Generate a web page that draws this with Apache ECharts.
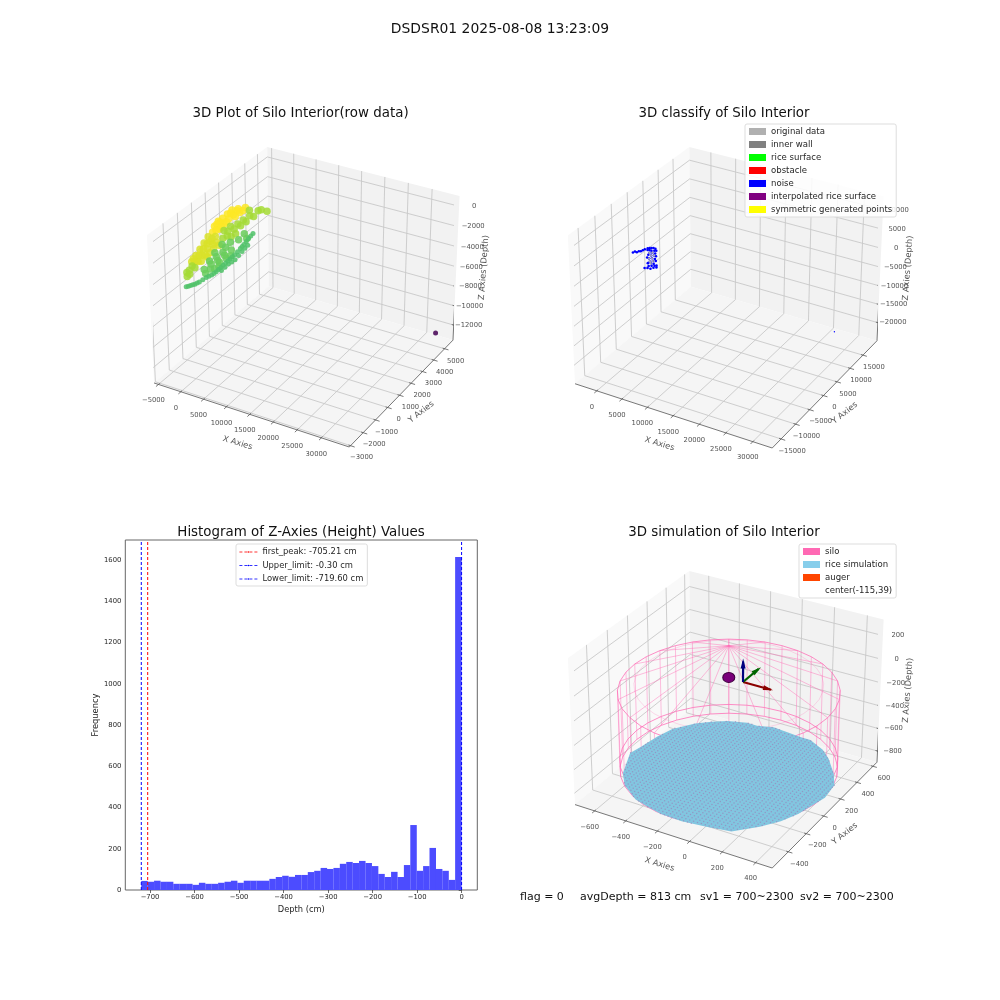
<!DOCTYPE html>
<html><head><meta charset="utf-8">
<script src="https://cdn.jsdelivr.net/npm/echarts@6/dist/echarts.min.js"></script>
<style>html,body{margin:0;background:#fff}#c{width:1000px;height:1000px}</style></head>
<body><div id="c"></div><script>
// ---------- histogram ----------
const histStart=-719.6, histWidth=14.386;
const histCounts=[44,40,45,40,40,30,30,30,25,35,30,30,35,40,45,35,45,45,45,45,54,63,69,64,73,73,87,93,107,102,107,127,136,131,141,131,116,78,63,88,63,121,315,93,116,204,102,93,49,1615];
const histXTicks=[-700,-600,-500,-400,-300,-200,-100,0];
const histYTicks=[0,200,400,600,800,1000,1200,1400,1600];
const firstPeak=-705.21, upperLimit=-0.30, lowerLimit=-719.60;
// ---------- raw data panel ----------
const rawX=[816,-69,-802,962,411,-686,-570,527,-635,825,-185,1123,753,1057,141,-410,1079,-148,767,-242,1065,848,
-572,495,793,60,1890,691,1759,2674,1324,2239,1956,2870,3364,401,699,1795,1149,2944,1781,2697,2413,3328,1563,2892,
677,1157,1977,2036,-1656,-102,174,1451,377,-1532,-1343,-640,-603,-414,168,1024,-740,-189,182,217,-79,959,1099,1498,
-1492,-635,222,-954,266,1123,-111,1109,1965,1646,2503,-105,1260,-337,77,1116,738,1777,731,1763,2256,2212,
89,517,946,1193,1381,1781,1846,1730,1614,1497,1381,1053,784,305,7,2427,2252,2441,1903,1577,
303,731,1070,1287,1581,1813,1788,1672,1555,1439,1217,918,544,156,2340,2346,2172,1740,32781];
const rawY=[1672,1434,1220,1195,910,839,458,529,148,77,-280,-376,-733,1409,1266,981,814,125,267,-90,-186,-519,
-629,-463,-917,-1129,-845,-1630,-1464,-1322,-2130,-1987,-2631,-2488,-2013,-679,-1130,-1060,-1560,-1680,-2060,-1917,-2560,-2418,-2392,-989,
-2211,-2735,-2807,-2997,2813,2955,3098,3097,2431,837,1266,1574,1979,2408,503,836,860,1145,1502,1907,265,526,-2544,-2283,
654,986,1320,-60,129,462,-727,-538,-205,-1253,-920,1867,1581,533,-299,-39,-895,-633,-1395,-1633,-1157,33,
-2482,-2316,-2148,-1912,-1483,-1221,-912,-531,-151,231,612,1159,1517,2041,2493,-722,-151,278,992,1540,
-2399,-2232,-2030,-1698,-1352,-1066,-721,-341,40,421,885,1338,1779,2267,-436,63,635,1266,5389];
const rawZ=[-300,-300,-300,-300,-300,-300,-300,-300,-300,-300,-300,-300,-300,-300,-300,-300,-300,-300,-300,-300,-300,-300,
-1000,-1000,-1000,-1000,-1000,-1000,-1000,-1000,-1000,-1000,-1000,-1000,-1000,-1000,-1000,-1000,-1000,-1000,-1000,-1000,-1000,-1000,-1000,-1000,
-2000,-2000,-2000,-2000,-2000,-2000,-2000,-2000,-2000,-2000,-2000,-2000,-2000,-2000,-2000,-2000,-2000,-2000,-2000,-2000,-2000,-2000,-2000,-2000,
-3200,-3200,-3200,-3200,-3200,-3200,-3200,-3200,-3200,-3200,-3200,-3200,-3200,-3200,-3200,-3200,-3200,-3200,-3200,-3200,-3200,-3200,
-3800,-3800,-3800,-3800,-3800,-3800,-3800,-3800,-3800,-3800,-3800,-3800,-3800,-3800,-3800,-3800,-3800,-3800,-3800,-3800,
-3800,-3800,-3800,-3800,-3800,-3800,-3800,-3800,-3800,-3800,-3800,-3800,-3800,-3800,-3800,-3800,-3800,-3800,-12800];
// ---------- classify panel ----------
const noiseX=[-4064,-3957,-3514,-3407,-3132,-3025,-2918,-2674,-2399,-2124,-1849,-1406,-932,-2338,-2063,-1620,-1207,-1560,-1147,-567,-1361,-781,-368,75,-995,-552,-139,441,90,502,915,150,562,1143,791,1204,1616,1891,577,990,1570,1815,2227,27866];
const noiseY=[722,1202,1104,1584,1776,2257,2738,3314,3505,3696,3887,3790,3305,2735,2926,2827,3114,2057,2344,2342,1382,1379,1666,1568,418,320,607,604,-453,-167,120,-1224,-937,-940,-1997,-1710,-1423,-1232,-2958,-2672,-2675,-2098,-1811,15119];
const noiseZ=[-2500,-2500,-2500,-2500,-2500,-2500,-2500,-2500,-2500,-2500,-2500,-2500,-2500,-2500,-2500,-2500,-2500,-2500,-2500,-2500,-2500,-2500,-2500,-2500,-2500,-2500,-2500,-2500,-2500,-2500,-2500,-2500,-2500,-2500,-2500,-2500,-2500,-2500,-2500,-2500,-2500,-2500,-2500,-21000];
const originalX=[-1560,-1147,-781,-368,-552,-139,90,502,562];
const originalY=[2057,2344,1379,1666,320,607,-453,-167,-937];
const originalZ=[-2500,-2500,-2500,-2500,-2500,-2500,-2500,-2500,-2500];
const classifyLegend=['original data','inner wall','rice surface','obstacle','noise','interpolated rice surface','symmetric generated points'];
const classifyColors=['#b0b0b0','#808080','#00ff00','#ff0000','#0000ff','#800080','#ffff00'];
// ---------- simulation panel ----------
const rimX=[485,476,449,405,345,271,185,90,-11,-115,-219,-320,-415,-501,-575,-635,-679,-706,-715,-706,-679,-635,-575,-501,-415,-320,-219,-115,-11,90,185,271,345,405,449,476];
const rimY=[39,143,244,339,425,499,559,603,630,639,630,603,559,499,425,339,244,143,39,-65,-166,-261,-347,-421,-480,-525,-552,-561,-552,-525,-480,-421,-347,-261,-166,-65];
const siloCenter=[-115,39];
const roofApexZ=275, rimZ=-95, wallRingZ=[-676,-756], roofRingScale=0.85;
const riceX=[-411,-304,-237,-146,-54,39,106,217,290,390,449,463,443,415,370,299,191,55,-86,-220,-322,-415,-545,-622,-705,-689,-670,-642,-559,-488];
const riceY=[540,580,577,608,599,589,586,525,455,325,218,79,-17,-138,-248,-351,-464,-492,-511,-504,-479,-449,-356,-254,-50,44,180,301,420,486];
const riceZ=-813;
const meshX=[-728,-704,-680,-656,-632,-608,-584,-560,-536,-512,-488,-464,-440,-416,-392,-368,-344,-320,-296,-272,-248,-224,-200,-176,-152,-128,-104,-80,-56,-32,-8,16,40,64,88,112,136,160,184,208,232,256,280,304,328,352,376,400,424,448,472,496];
const meshY=[-574,-550,-526,-502,-478,-454,-430,-406,-382,-358,-334,-310,-286,-262,-238,-214,-190,-166,-142,-118,-94,-70,-46,-22,2,26,50,74,98,122,146,170,194,218,242,266,290,314,338,362,386,410,434,458,482,506,530,554,578,602,626,650];
const sphere=[-115,39,12];
const augerBase=[-5,0,40];
const augerTips=[[165,0,40],[-5,170,40],[-5,0,210]];
const augerHeads=[[148,0,40],[-5,153,40],[-5,0,192]];
const augerColors=['#8b0000','#006400','#000080'];
const augerHeadRotate=[-105,-53,0];
const simLegend=['silo','rice simulation','auger','center(-115,39)'];
const simColors=['#ff69b4','#87ceeb','#ff4500','#ffffff'];
// ---------- panel axes ----------
const p1X=[-5000,0,5000,10000,15000,20000,25000,30000], p1Y=[-3000,-2000,-1000,0,1000,2000,3000,4000,5000], p1Z=[-12000,-10000,-8000,-6000,-4000,-2000,0];
const p2X=[0,5000,10000,15000,20000,25000,30000], p2Y=[-15000,-10000,-5000,0,5000,10000,15000], p2Z=[-20000,-15000,-10000,-5000,0,5000,10000];
const p4X=[-600,-400,-200,0,200,400], p4Y=[-400,-200,0,200,400,600], p4Z=[-800,-600,-400,-200,0,200];
const viridis=['#440154','#482878','#3e4989','#31688e','#26828e','#1f9e89','#35b779','#6ece58','#b5de2b','#fde725'];
const FONT='DejaVu Sans', TXT='#262626';
const fmt=v=>String(v).replace('-','\u2212');

// ---------- mplot3d style projection ----------
const rad=Math.PI/180, EL=30*rad, AZ=-60*rad, DIST=10;
const BN=Math.sqrt(41), BOX=[4,4,3].map(a=>a*1.8294640721620434*25/24/BN);
const dot=(a,b)=>a[0]*b[0]+a[1]*b[1]+a[2]*b[2];
const W=[Math.cos(EL)*Math.cos(AZ),Math.cos(EL)*Math.sin(AZ),Math.sin(EL)];
const UU=[-W[1],W[0],0].map(v=>v/Math.hypot(W[0],W[1]));
const VV=[W[1]*UU[2]-W[2]*UU[1],W[2]*UU[0]-W[0]*UU[2],W[0]*UU[1]-W[1]*UU[0]];
const EYE=BOX.map((b,i)=>b/2+DIST*W[i]);
function projector(lim){return p=>{
  const q=[0,1,2].map(i=>(p[i]-lim[i][0])/(lim[i][1]-lim[i][0])*BOX[i]-EYE[i]);
  const d=-dot(q,W);return [dot(q,UU)/d,dot(q,VV)/d];};}

const series=[],grids=[],xAxes=[],yAxes=[],titles=[],legends=[],visualMaps=[];
const base={animation:false,silent:true};
function addGrid(g,xa,ya){grids.push(g);const i=grids.length-1;xAxes.push({gridIndex:i,...xa});yAxes.push({gridIndex:i,...ya});return i;}
function polyline(P,gi,name,lines,style,z){
  const data=[];lines.forEach(l=>{l.forEach(p=>data.push(P(p)));data.push(['-','-']);});
  series.push({...base,type:'line',name,xAxisIndex:gi,yAxisIndex:gi,data,showSymbol:false,symbol:'none',clip:false,connectNulls:false,lineStyle:style,z:z||2});
}
function polygons(P,gi,name,polys,color,z){
  series.push({...base,type:'custom',name,xAxisIndex:gi,yAxisIndex:gi,clip:false,z:z||1,itemStyle:{color},data:polys.map((_,i)=>[i,0]),
    renderItem:(params,api)=>({type:'polygon',shape:{points:polys[api.value(0)].map(p=>api.coord(P(p)))},style:{fill:color}})});
}
function texts(P,gi,items,size){
  series.push({...base,type:'scatter',xAxisIndex:gi,yAxisIndex:gi,clip:false,symbolSize:1,itemStyle:{color:'rgba(0,0,0,0)'},z:6,
    label:{show:true,position:'inside',formatter:'{b}',fontFamily:FONT,fontSize:size,color:TXT},
    data:items.map(t=>({value:P(t.p),name:t.text,label:{offset:t.off,rotate:t.rot||0,fontSize:t.size||size}}))});
}
function panel3D(cfg){
  const [xl,yl,zl]=cfg.lim,P=projector(cfg.lim),f=cfg.frame;
  const A=P([xl[0],yl[0],zl[0]]),C=P([xl[1],yl[1],zl[0]]),B=P([xl[1],yl[0],zl[0]]),T=P([xl[0],yl[1],zl[1]]);
  const gi=addGrid({left:f.A[0],top:f.T[1],width:f.C[0]-f.A[0],height:f.B[1]-f.T[1]},
    {type:'value',show:false,min:A[0],max:C[0]},{type:'value',show:false,min:B[1],max:T[1]});
  const [x0,x1]=xl,[y0,y1]=yl,[z0,z1]=zl;
  polygons(P,gi,'pane-x',[[[x0,y0,z0],[x0,y1,z0],[x0,y1,z1],[x0,y0,z1]]],'#f9f9f9',1);
  polygons(P,gi,'pane-y',[[[x0,y1,z0],[x1,y1,z0],[x1,y1,z1],[x0,y1,z1]]],'#f2f2f2',1);
  polygons(P,gi,'pane-z',[[[x0,y0,z0],[x1,y0,z0],[x1,y1,z0],[x0,y1,z0]]],'#f5f5f5',1);
  const gl=[];
  cfg.xt.forEach(v=>gl.push([[v,y0,z0],[v,y1,z0],[v,y1,z1]]));
  cfg.yt.forEach(v=>gl.push([[x1,v,z0],[x0,v,z0],[x0,v,z1]]));
  cfg.zt.forEach(v=>gl.push([[x0,y0,v],[x0,y1,v],[x1,y1,v]]));
  polyline(P,gi,'gridlines',gl,{color:'#c8c8c8',width:0.9},2);
  const dx=x1-x0,dy=y1-y0;
  const ax=[[[x0,y0,z0],[x1,y0,z0],[x1,y1,z0],[x1,y1,z1]]];
  cfg.xt.forEach(v=>ax.push([[v,y0+0.01*dy,z0],[v,y0-0.02*dy,z0]]));
  cfg.yt.forEach(v=>ax.push([[x1-0.01*dx,v,z0],[x1+0.02*dx,v,z0]]));
  cfg.zt.forEach(v=>ax.push([[x1-0.01*dx,y1,v],[x1+0.02*dx,y1,v]]));
  polyline(P,gi,'axes',ax,{color:'#555',width:0.8},3);
  const items=[];
  cfg.xt.forEach(v=>items.push({p:[v,y0,z0],text:fmt(v),off:[-5,16]}));
  cfg.yt.forEach(v=>items.push({p:[x1,v,z0],text:fmt(v),off:[11,12]}));
  cfg.zt.forEach(v=>items.push({p:[x1,y1,v],text:fmt(v),off:[15,0]}));
  texts(P,gi,items,6.8);
  texts(P,gi,[
    {p:[(x0+x1)/2,y0,z0],text:'X Axies',off:[-2.5,31],rot:-17,size:8.3},
    {p:[x1,(y0+y1)/2,z0],text:'Y Axies',off:[1.1,27.5],rot:38,size:8.3},
    {p:[x1,y1,(z0+z1)/2],text:'Z Axies (Depth)',off:[3.9,27.5],rot:86,size:8.3}],8.3);
  return {P,gi};
}
const title=(text,x,y,size,align)=>titles.push({text,left:x,top:y,textAlign:align||'center',padding:0,textStyle:{fontFamily:FONT,fontWeight:'normal',fontSize:size,color:'#111'}});
title('DSDSR01 2025-08-08 13:23:09',500,22,13.9);
title('3D Plot of Silo Interior(row data)',300.5,107,13.4);
title('3D classify of Silo Interior',724,107,13.4);
title('Histogram of Z-Axies (Height) Values',301,526,13.4);
title('3D simulation of Silo Interior',724,526,13.4);
title('flag = 0',520,892,11,'left');
title('avgDepth = 813 cm',580,892,11,'left');
title('sv1 = 700~2300',700,892,11,'left');
title('sv2 = 700~2300',800,892,11,'left');

// ---- panel 1 ----
const p1=panel3D({lim:[[-6000,35700],[-3100,5780],[-13580,1000]],frame:{A:[154,382],C:[453,341],B:[350,447],T:[266,147]},xt:p1X,yt:p1Y,zt:p1Z});
series.push({...base,type:'scatter',name:'raw',xAxisIndex:p1.gi,yAxisIndex:p1.gi,clip:false,symbolSize:v=>v[2]<=-3800?5:7.5,itemStyle:{opacity:0.85},z:4,
  data:rawX.map((x,i)=>{const q=p1.P([x,rawY[i],rawZ[i]]);return [q[0],q[1],rawZ[i]];})});
visualMaps.push({show:false,type:'continuous',seriesIndex:series.length-1,dimension:2,min:-12800,max:-300,inRange:{color:viridis}});

// ---- panel 2 ----
const p2=panel3D({lim:[[-4400,33560],[-18000,20600],[-25000,13500]],frame:{A:[575,383],C:[877,340],B:[772,448],T:[689,147]},xt:p2X,yt:p2Y,zt:p2Z});
classifyLegend.forEach((name,i)=>{
  const src=name==='noise'?[noiseX,noiseY,noiseZ]:name==='original data'?[originalX,originalY,originalZ]:null;
  series.push({...base,type:'scatter',name,xAxisIndex:p2.gi,yAxisIndex:p2.gi,clip:false,symbolSize:name==='noise'?((v,p)=>p.dataIndex===noiseX.length-1?1.4:2.6):2.2,itemStyle:{color:classifyColors[i],opacity:1},z:name==='noise'?4:5,
    data:src?src[0].map((x,j)=>p2.P([x,src[1][j],src[2][j]])):[]});
});
const legendBase={orient:'vertical',icon:'rect',itemWidth:17,itemHeight:7,itemGap:4,selectedMode:false,backgroundColor:'rgba(255,255,255,0.85)',borderColor:'#ddd',borderWidth:1,borderRadius:2,padding:[3,4,3,4],z:20,textStyle:{fontFamily:FONT,fontSize:8.55,color:TXT,padding:0}};
legends.push({...legendBase,left:745,top:124,data:classifyLegend});

// ---- panel 4 ----
const p4=panel3D({lim:[[-728,498],[-574,652],[-900,334]],frame:{A:[575,802],C:[877,760],B:[771,868],T:[685,571]},xt:p4X,yt:p4Y,zt:p4Z});
simLegend.forEach((name,i)=>series.push({...base,type:'scatter',name,xAxisIndex:p4.gi,yAxisIndex:p4.gi,data:[],itemStyle:{color:simColors[i],opacity:1}}));
const ringAt=z=>rimX.map((x,i)=>[x,rimY[i],z]).concat([[rimX[0],rimY[0],z]]);
const apex=[siloCenter[0],siloCenter[1],roofApexZ];
const radial=[],walls=[];
rimX.forEach((x,i)=>{if(i%2===0)radial.push([apex,[x,rimY[i],rimZ]]);walls.push([[x,rimY[i],rimZ],[x,rimY[i],wallRingZ[1]]]);});
const roofRing=rimX.map((x,i)=>[siloCenter[0]+(x-siloCenter[0])*roofRingScale,siloCenter[1]+(rimY[i]-siloCenter[1])*roofRingScale,rimZ+(roofApexZ-rimZ)*(1-roofRingScale)]);
roofRing.push(roofRing[0]);
polyline(p4.P,p4.gi,'silo-radial',radial,{color:'rgba(255,105,180,0.55)',width:0.8},4);
polyline(p4.P,p4.gi,'silo-walls',walls,{color:'rgba(255,105,180,0.42)',width:1},4);
polyline(p4.P,p4.gi,'silo-roofring',[roofRing],{color:'rgba(255,105,180,0.3)',width:0.8},4);
polyline(p4.P,p4.gi,'silo-rings',[ringAt(rimZ),ringAt(wallRingZ[0]),ringAt(wallRingZ[1])],{color:'rgba(255,105,180,0.75)',width:1},4);
augerTips.forEach((t,i)=>{
  polyline(p4.P,p4.gi,'auger-'+i,[[augerBase,t]],{color:augerColors[i],width:2.2},5);
  series.push({...base,type:'scatter',name:'auger-head-'+i,xAxisIndex:p4.gi,yAxisIndex:p4.gi,clip:false,symbol:'triangle',symbolSize:[5,10],symbolRotate:augerHeadRotate[i],itemStyle:{color:augerColors[i],opacity:1},z:5,data:[p4.P(augerHeads[i])]});
});
series.push({...base,type:'scatter',name:'sphere',xAxisIndex:p4.gi,yAxisIndex:p4.gi,clip:false,symbolSize:[12,10],itemStyle:{color:'#7a007a',borderColor:'#3f003f',borderWidth:1,opacity:1},z:5,data:[p4.P(sphere)]});
const riceOutline=riceX.map((x,i)=>[x,riceY[i],riceZ]);
polygons(p4.P,p4.gi,'rice-fill',[riceOutline],'#82c6e0',7);
function inRice(x,y){let c=false;for(let i=0,j=riceX.length-1;i<riceX.length;j=i++){if((riceY[i]>y)!==(riceY[j]>y)&&x<(riceX[j]-riceX[i])*(y-riceY[i])/(riceY[j]-riceY[i])+riceX[i])c=!c;}return c;}
const meshPts=[];meshX.forEach(x=>meshY.forEach(y=>{if(inRice(x,y))meshPts.push(p4.P([x,y,riceZ]));}));
series.push({...base,type:'scatter',name:'rice-mesh',xAxisIndex:p4.gi,yAxisIndex:p4.gi,clip:false,symbolSize:1.5,itemStyle:{color:'#9a80b8',opacity:0.65},z:8,data:meshPts,large:false});
legends.push({...legendBase,left:799,top:544,data:simLegend});

// ---- histogram ----
const hg=addGrid({left:125.3,top:540,width:352,height:350,show:true,borderColor:'#666',borderWidth:1,backgroundColor:'#fff'},
 {type:'value',min:-755.5,max:35,splitLine:{show:false},axisLine:{show:false},axisTick:{show:true,length:3,lineStyle:{color:'#444',width:0.8},customValues:histXTicks},
  axisLabel:{fontFamily:FONT,fontSize:6.8,color:TXT,margin:4,customValues:histXTicks,formatter:fmt},name:'Depth (cm)',nameLocation:'middle',nameGap:16,nameTextStyle:{fontFamily:FONT,fontSize:8.3,color:TXT}},
 {type:'value',min:0,max:1697,splitLine:{show:false},axisLine:{show:false},axisTick:{show:true,length:3,lineStyle:{color:'#444',width:0.8},customValues:histYTicks},
  axisLabel:{fontFamily:FONT,fontSize:6.8,color:TXT,margin:4,customValues:histYTicks,formatter:fmt},name:'Frequency',nameLocation:'middle',nameGap:23,nameTextStyle:{fontFamily:FONT,fontSize:8.3,color:TXT}});
series.push({...base,type:'bar',name:'hist',xAxisIndex:hg,yAxisIndex:hg,barWidth:6.5,itemStyle:{color:'#4c4cff'},z:2,
  data:histCounts.map((c,i)=>[histStart+histWidth*(i+0.5),c])});
[['first_peak: -705.21 cm',firstPeak,'#ff0000'],['Upper_limit: -0.30 cm',upperLimit,'#0000ff'],['Lower_limit: -719.60 cm',lowerLimit,'#0000ff']].forEach(([name,v,color])=>{
  series.push({...base,type:'line',name,xAxisIndex:hg,yAxisIndex:hg,symbol:'none',lineStyle:{color,width:1,type:[3,2]},itemStyle:{color},z:3,data:[[v,0],[v,1697]]});
});
legends.push({...legendBase,left:236,top:544,padding:[4,4,3,3],itemWidth:18,itemHeight:2,itemGap:5.5,lineStyle:{width:0.8,type:[3,2]},textStyle:{...legendBase.textStyle,fontSize:8.4},data:['first_peak: -705.21 cm','Upper_limit: -0.30 cm','Lower_limit: -719.60 cm'],icon:undefined});

const chart=echarts.init(document.getElementById('c'),null,{renderer:'canvas',width:1000,height:1000});
chart.setOption({animation:false,backgroundColor:'#fff',title:titles,grid:grids,xAxis:xAxes,yAxis:yAxes,series,legend:legends,visualMap:visualMaps,tooltip:{show:false}});
</script></body></html>
